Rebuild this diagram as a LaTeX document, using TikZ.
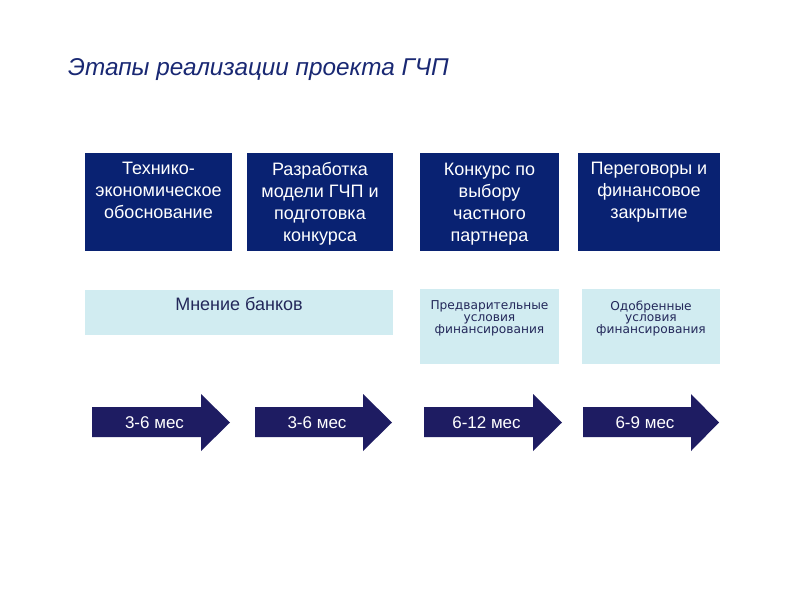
\documentclass[tikz,border=0pt]{standalone}
\usepackage{fontspec}
\setmainfont{Liberation Sans}
\newfontfamily\smallfont{DejaVu Sans}
\definecolor{titleblue}{RGB}{25,40,115}
\definecolor{stagefill}{RGB}{9,34,114}
\definecolor{arrowfill}{RGB}{30,28,98}
\definecolor{lightfill}{RGB}{209,236,241}
\definecolor{lighttext}{RGB}{35,40,90}
\begin{document}
\begin{tikzpicture}[x=1pt,y=-1pt,
  stagebox/.style={fill=stagefill, draw=none, inner sep=0pt, anchor=north west},
  stagetext/.style={text=white, inner sep=0pt, anchor=north, align=center,
     font=\fontsize{18}{22}\selectfont},
  lightbox/.style={fill=lightfill, draw=none, inner sep=0pt, anchor=north west},
  banktext/.style={text=lighttext, inner sep=0pt, anchor=base, font=\fontsize{18}{22}\selectfont},
  condtext/.style={text=lighttext, inner sep=0pt, anchor=north, align=center,
     font=\smallfont\fontsize{12.2}{11.8}\selectfont},
  arrowtext/.style={text=white, inner sep=0pt, anchor=center, font=\fontsize{17}{20}\selectfont}]
\useasboundingbox (0,0) rectangle (800,600);
\fill[white] (0,0) rectangle (800,600);

% title
\node[anchor=base west, inner sep=0pt, text=titleblue,
      font=\itshape\fontsize{24.3}{29}\selectfont] (title) at (68,75) {Этапы реализации проекта ГЧП};

% stage boxes
\node[stagebox, minimum width=147pt, minimum height=98pt] (s1) at (85,153) {};
\node[stagebox, minimum width=146pt, minimum height=98pt] (s2) at (247,153) {};
\node[stagebox, minimum width=139pt, minimum height=98pt] (s3) at (420,153) {};
\node[stagebox, minimum width=142pt, minimum height=98pt] (s4) at (578,153) {};

\node[stagetext] (t1) at (158.5,162) {Технико-\\экономическое\\обоснование};
\node[stagetext] (t2) at (320,162) {Разработка\\модели ГЧП и\\подготовка\\конкурса};
\node[stagetext] (t3) at (489.5,163) {Конкурс по\\выбору\\частного\\партнера};
\node[stagetext] (t4) at (649,162) {Переговоры и\\финансовое\\закрытие};

% light boxes
\node[lightbox, minimum width=308pt, minimum height=45pt] (l1) at (85,290) {};
\node[lightbox, minimum width=139pt, minimum height=75pt] (l3) at (420,289) {};
\node[lightbox, minimum width=138pt, minimum height=75pt] (l4) at (582,289) {};

\node[banktext] (b1) at (239,310.5) {Мнение банков};
\node[condtext] (c3) at (489.5,300.5) {Предварительные\\условия\\финансирования};
\node[condtext] (c4) at (651,300.5) {Одобренные\\условия\\финансирования};

% arrows
\foreach \l/\h/\t/\lab/\n in {92/201/230/{3-6 мес}/a1, 255/363/392/{3-6 мес}/a2,
                              424/533/562/{6-12 мес}/a3, 583/691/719/{6-9 мес}/a4}{
  \fill[arrowfill] (\l,407) -- (\h,407) -- (\h,394) -- (\t,422.5) -- (\h,451)
       -- (\h,437) -- (\l,437) -- cycle;
  \node[arrowtext] (\n) at ({(\l+\h)/2+8},422.5) {\lab};
}
\end{tikzpicture}
\end{document}
